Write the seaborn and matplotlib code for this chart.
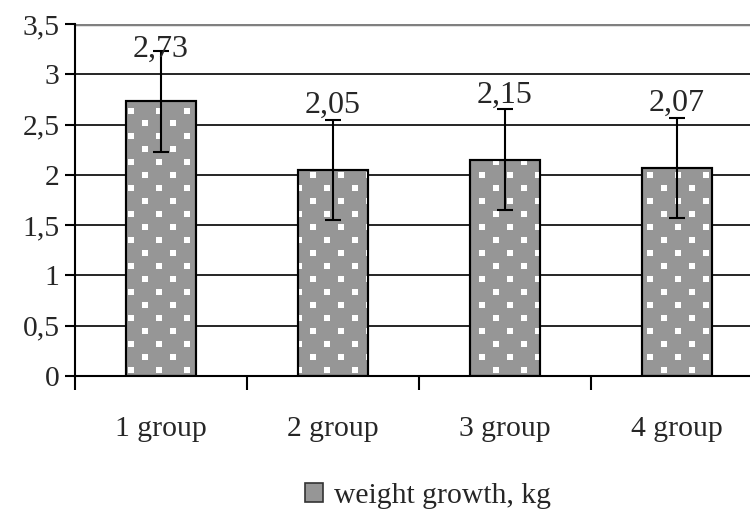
import numpy as np
import matplotlib
matplotlib.use("Agg")
import matplotlib.pyplot as plt
import seaborn as sns
from matplotlib.patches import Patch, Rectangle

# -----------------------------------
# Data
# -----------------------------------
groups = ["1 group", "2 group", "3 group", "4 group"]
weight_growth = [2.73, 2.05, 2.15, 2.07]
errors = [0.5, 0.5, 0.5, 0.5]
value_labels = ["2,73", "2,05", "2,15", "2,07"]

y_ticks = [0, 0.5, 1, 1.5, 2, 2.5, 3, 3.5]
y_tick_labels = ["0", "0,5", "1", "1,5", "2", "2,5", "3", "3,5"]

legend_label = "weight growth, kg"

bar_color = "#969696"

# -----------------------------------
# Style
# -----------------------------------
sns.set_style("white")
plt.rcParams["font.family"] = ["Liberation Serif", "DejaVu Serif"]

fig = plt.figure(figsize=(7.5, 5.11), dpi=100)
ax = fig.add_axes([0.1, 0.2642, 0.9173, 0.6888])

# -----------------------------------
# Bars
# -----------------------------------
sns.barplot(
    x=groups,
    y=weight_growth,
    color=bar_color,
    saturation=1,
    width=0.41,
    edgecolor="black",
    linewidth=1.5,
    ax=ax,
    zorder=2
)

# white square dot pattern inside bars
dx = 0.163
dy = 0.129
pts_x = []
pts_y = []
for r, yy in enumerate(np.arange(0.06, 3.5, dy)):
    off = 0 if r % 2 == 0 else dx / 2
    for xx in np.arange(-0.5 + off, 3.6, dx):
        pts_x.append(xx)
        pts_y.append(yy)

for p in list(ax.patches):
    sc = ax.scatter(
        pts_x, pts_y,
        marker="s",
        s=24,
        color="white",
        linewidths=0,
        zorder=2.5
    )
    sc.set_clip_path(p)
    ax.add_patch(
        Rectangle(
            (p.get_x(), p.get_y()),
            p.get_width(),
            p.get_height(),
            fill=False,
            edgecolor="black",
            linewidth=1.5,
            zorder=3
        )
    )

# -----------------------------------
# Error bars
# -----------------------------------
ax.errorbar(
    x=np.arange(len(groups)),
    y=weight_growth,
    yerr=errors,
    fmt="none",
    ecolor="black",
    elinewidth=1.5,
    capsize=5.8,
    capthick=1.5,
    zorder=4
)

# value labels
for i, (v, e, lab) in enumerate(zip(weight_growth, errors, value_labels)):
    ty = min(v + e + 0.065, 3.17)
    ax.text(
        i, ty, lab,
        ha="center",
        va="baseline",
        fontsize=23,
        zorder=5
    )

# -----------------------------------
# Axes
# -----------------------------------
ax.set_xlim(-0.5, 3.5)
ax.set_ylim(0, 3.5)

ax.set_yticks(y_ticks)
ax.set_yticklabels(y_tick_labels, fontsize=21.3)
ax.tick_params(axis="y", direction="out", length=7, width=1.5,
               color="black", pad=4, left=True)

ax.set_xticks(np.arange(len(groups)))
ax.set_xticklabels(groups, fontsize=21.3)
ax.tick_params(axis="x", which="major", length=0, pad=29)
ax.set_xticks(np.arange(-0.5, len(groups), 1.0), minor=True)
ax.tick_params(axis="x", which="minor", direction="out", length=10,
               width=1.5, color="black", bottom=True)

ax.grid(False)
for yv in y_ticks[1:-1]:
    ax.axhline(yv, color="black", linewidth=1.2, zorder=1)
ax.axhline(3.5, color="#808080", linewidth=2.5, zorder=1)

for side in ["top", "right"]:
    ax.spines[side].set_visible(False)
ax.spines["left"].set_color("black")
ax.spines["left"].set_linewidth(1.5)
ax.spines["bottom"].set_color("black")
ax.spines["bottom"].set_linewidth(1.5)

# -----------------------------------
# Legend
# -----------------------------------
handle = Patch(facecolor=bar_color, edgecolor="#333333", linewidth=1.2)
fig.legend(
    [handle],
    [legend_label],
    loc="center",
    bbox_to_anchor=(428 / 750, 1 - 496 / 511),
    frameon=False,
    fontsize=21.3,
    handlelength=0.6,
    handleheight=0.6,
    handletextpad=0.35
)

fig.savefig("out.png", dpi=100)
